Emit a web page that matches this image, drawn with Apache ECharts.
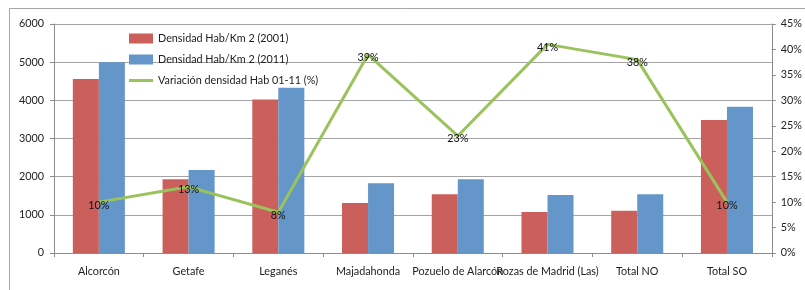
<!DOCTYPE html>
<html>
<head>
<meta charset="utf-8">
<script src="https://cdn.jsdelivr.net/npm/echarts@6/dist/echarts.min.js"></script>
<style>
  html, body { margin: 0; padding: 0; background: #fff; }
  #main { width: 805px; height: 290px; }
</style>
</head>
<body>
<div id="main"></div>
<script>
const categories = ['Alcorcón', 'Getafe', 'Leganés', 'Majadahonda', 'Pozuelo de Alarcón', 'Rozas de Madrid (Las)', 'Total NO', 'Total SO'];
const density2001 = [4560, 1930, 4020, 1310, 1540, 1075, 1110, 3485];
const density2011 = [5000, 2175, 4330, 1825, 1930, 1520, 1540, 3835];
const variation = [10, 13, 8, 39, 23, 41, 38, 10];

const lineColor = '#9bc35c';
const labelFont = { color: '#222', fontSize: 10.8, fontFamily: 'Lato' };

const myChart = echarts.init(document.getElementById('main'));

const option = {
  backgroundColor: '#fff',
  animation: false,
  graphic: [{
    type: 'rect',
    shape: { x: 9.5, y: 8.5, width: 820, height: 300 },
    style: { fill: 'none', stroke: '#a6a6a6', lineWidth: 1 },
    silent: true
  }],
  grid: { left: 54, right: 29, top: 24, bottom: 37 },
  legend: {
    orient: 'vertical',
    left: 124,
    top: 28,
    itemGap: 10,
    itemWidth: 24,
    itemHeight: 10,
    textStyle: { color: '#222', fontSize: 10.8, fontFamily: 'Lato' },
    data: [
      { name: 'Densidad Hab/Km 2 (2001)', icon: 'rect' },
      { name: 'Densidad Hab/Km 2 (2011)', icon: 'rect' },
      { name: 'Variación densidad Hab 01-11 (%)', icon: 'path://M0,0H24V3H0Z', itemStyle: { color: lineColor, opacity: 1 } }
    ]
  },
  xAxis: {
    type: 'category',
    data: categories,
    axisLine: { lineStyle: { color: '#8c8c8c' } },
    axisTick: { show: true, length: 4, lineStyle: { color: '#8c8c8c' } },
    axisLabel: Object.assign({ margin: 13, interval: 0 }, labelFont)
  },
  yAxis: [{
    type: 'value',
    min: 0,
    max: 6000,
    interval: 1000,
    axisLine: { show: true, lineStyle: { color: '#8c8c8c' } },
    axisTick: { show: true, length: 4, lineStyle: { color: '#8c8c8c' } },
    axisLabel: Object.assign({ margin: 10, formatter: v => String(v) }, labelFont),
    splitLine: { lineStyle: { color: '#a3a3a3' } }
  }, {
    type: 'value',
    min: 0,
    max: 45,
    interval: 5,
    position: 'right',
    axisLine: { show: true, lineStyle: { color: '#8c8c8c' } },
    axisTick: { show: true, length: 4, lineStyle: { color: '#8c8c8c' } },
    axisLabel: Object.assign({ margin: 9, formatter: '{value}%' }, labelFont),
    splitLine: { show: false }
  }],
  series: [{
    name: 'Densidad Hab/Km 2 (2001)',
    type: 'bar',
    data: density2001,
    barGap: '0%',
    barCategoryGap: '42%',
    itemStyle: { color: '#cb5f5b' }
  }, {
    name: 'Densidad Hab/Km 2 (2011)',
    type: 'bar',
    data: density2011,
    itemStyle: { color: '#6596c9' }
  }, {
    name: 'Variación densidad Hab 01-11 (%)',
    type: 'line',
    yAxisIndex: 1,
    data: variation,
    symbol: 'circle',
    symbolSize: 2,
    showSymbol: true,
    lineStyle: { width: 3, color: lineColor },
    itemStyle: { color: 'rgba(0,0,0,0)', borderWidth: 0 },
    label: {
      show: true,
      position: 'inside',
      offset: [0, 3],
      formatter: '{c}%',
      color: '#111',
      fontSize: 10.8,
      fontFamily: 'Lato'
    }
  }]
};

myChart.setOption(option);
</script>
</body>
</html>
